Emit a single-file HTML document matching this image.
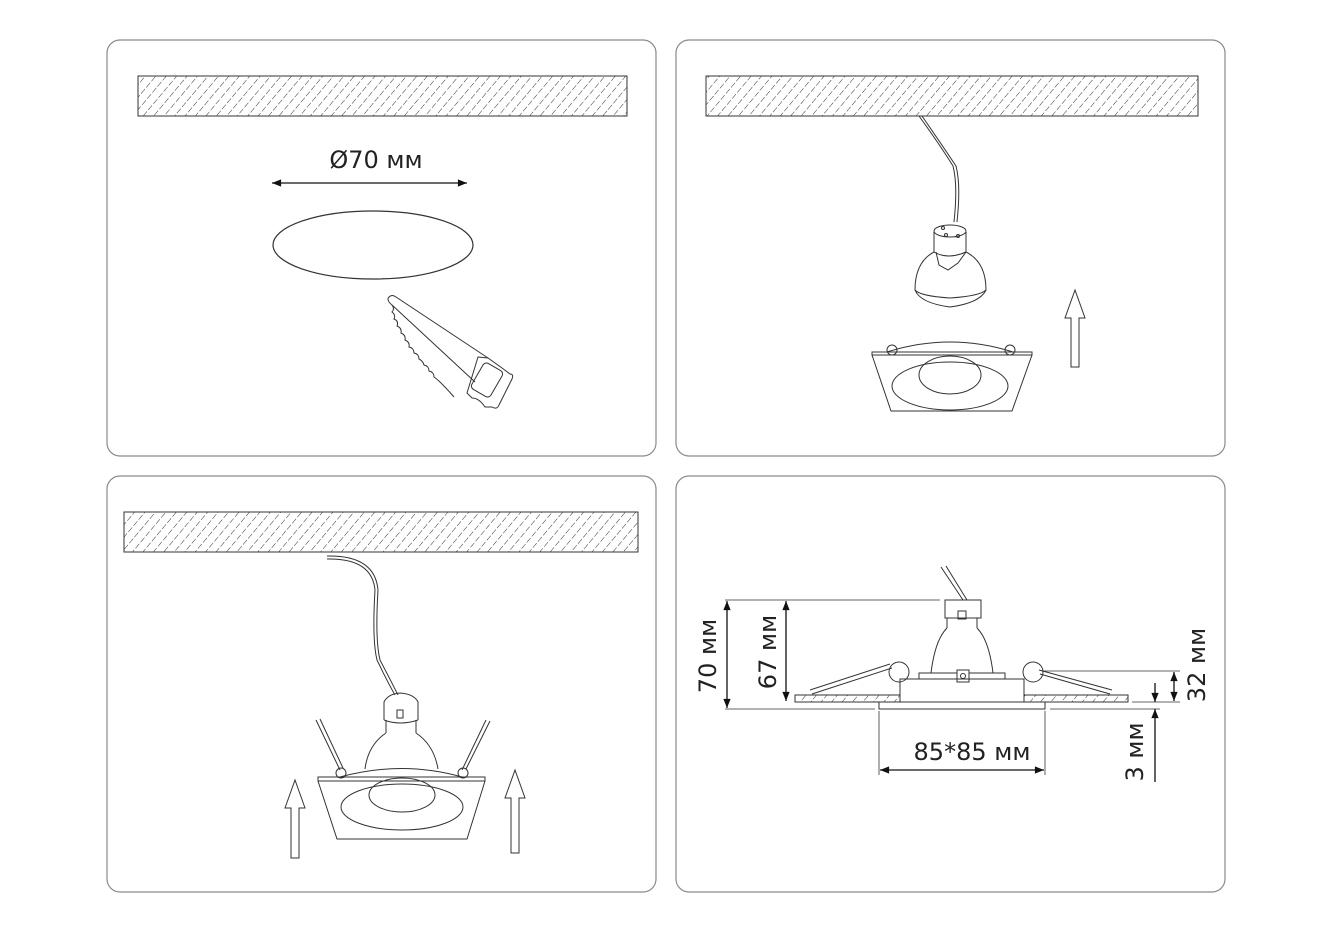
<!DOCTYPE html>
<html><head><meta charset="utf-8"><style>
html,body{margin:0;padding:0;background:#fff}
svg{display:block}
text{font-family:"DejaVu Sans","Liberation Sans",sans-serif;fill:#222}
</style></head><body>
<svg width="1333" height="933" viewBox="0 0 1333 933" xmlns="http://www.w3.org/2000/svg">
<defs>
<pattern id="h" width="8" height="8" patternUnits="userSpaceOnUse" patternTransform="rotate(40)">
<line x1="0" y1="0" x2="0" y2="8" stroke="#333" stroke-width="1" stroke-dasharray="5 2"/>
</pattern>
<marker id="a" viewBox="0 0 10 10" refX="10" refY="5" markerWidth="9" markerHeight="7" orient="auto-start-reverse"><path d="M0,1 L10,5 L0,9 Z" fill="#111"/></marker>
</defs>
<g fill="none" stroke="#8a8a8a" stroke-width="1.2">
<rect x="107" y="40" width="549" height="416" rx="13"/>
<rect x="676" y="40" width="549" height="416" rx="13"/>
<rect x="107" y="476" width="549" height="416" rx="13"/>
<rect x="676" y="476" width="549" height="416" rx="13"/>
</g>
<g stroke="#333" stroke-width="1">
<rect x="138" y="76" width="489" height="40" fill="url(#h)"/>
<rect x="706" y="76" width="492" height="40" fill="url(#h)"/>
<rect x="124" y="512" width="514" height="40" fill="url(#h)"/>
</g>
<!-- Panel 1 -->
<text x="376" y="168" font-size="24" text-anchor="middle">Ø70 мм</text>
<line x1="272" y1="183" x2="467" y2="183" stroke="#111" stroke-width="1.3" marker-start="url(#a)" marker-end="url(#a)"/>
<ellipse cx="373" cy="245" rx="100" ry="34" fill="none" stroke="#333" stroke-width="1.2"/>
<g fill="none" stroke="#333" stroke-width="1">
<path d="M389,297 Q386,300 392,305 L475,382 M389,297 Q392,294 396,297 L488,358"/>
<path d="M392,305 q3,4 0,7 q4,3 2,7 q5,2 3,7 q5,2 4,7 q5,2 4,7 q5,2 4,7 q5,1 5,6 q5,1 5,6 q4,2 5,6 q5,1 5,6 q5,1 5,6 q6,4 20,20" />
<path d="M478,357 L488,358 L502,368 L510,374 Q514,374 512,379 L499,405 Q497,410 492,407 L485,407 Q479,398 472,398 L467,393 Z"/>
<rect x="476" y="365" width="22" height="30" rx="4" transform="rotate(30 487 380)"/>
</g>
<!-- Panel 2 -->
<g fill="none" stroke="#333" stroke-width="1">
<path d="M919,116 Q940,145 953,166 Q958,185 954,222 M922,116 Q942,145 956,166 Q961,185 957,222"/>
<path d="M934,232 L934,252 Q948,260 966,252 L966,232"/>
<ellipse cx="950" cy="231" rx="16" ry="6"/>
<circle cx="946" cy="235" r="1.5"/><circle cx="958" cy="236" r="1.5"/><circle cx="943" cy="228" r="1.5"/>
<path d="M936,252 L939,265 L948,270 L958,263 L966,252"/>
<path d="M934,252 Q915,262 915,290 Q920,303 950,307 Q980,303 986,290 Q986,262 966,252"/>
<path d="M915,290 Q920,296 950,298 Q980,296 986,290"/>
<path d="M872,352 L1032,352 L1032,355 L872,355 Z M872,355 L891,411 L1012,411 L1032,355"/>
<path d="M887,352 Q950,332 1013,352"/>
<circle cx="892" cy="350" r="5"/><circle cx="1010" cy="350" r="5"/>
<ellipse cx="950" cy="386" rx="58" ry="24"/>
<ellipse cx="950" cy="375" rx="31" ry="19"/>
<path d="M1071,367 L1071,318 L1065,318 L1075,290 L1085,318 L1079,318 L1079,367 Z"/>
</g>
<!-- Panel 3 -->
<g fill="none" stroke="#333" stroke-width="1">
<path d="M327,556 Q375,555 378,590 Q375,640 380,660 Q392,683 398,695 M327,559 Q372,558 375,590 Q372,640 377,660 Q388,683 395,695"/>
<path d="M384,720 L384,702 Q388,694 400,693 Q414,694 418,702 L418,720"/>
<rect x="397" y="710" width="6" height="8"/>
<path d="M386,720 L386,733 M416,720 L416,733 M384,720 Q400,726 418,720"/>
<path d="M386,733 Q368,745 365,769 M416,733 Q434,745 438,769"/>
<path d="M318,777 L485,777 L485,781 L318,781 Z M318,781 L337,839 L467,839 L485,781"/>
<path d="M340,777 Q402,760 462,777"/>
<circle cx="341" cy="773" r="5"/><circle cx="463" cy="773" r="5"/>
<path d="M316,720 L340,770 M320,719 L343,768 M486,720 L462,770 M490,721 L466,769"/>
<ellipse cx="402" cy="807" rx="61" ry="23"/>
<ellipse cx="402" cy="795" rx="33" ry="17"/>
<path d="M291,858 L291,808 L285,808 L295,780 L305,808 L299,808 L299,858 Z"/>
<path d="M511,853 L511,798 L505,798 L515,770 L525,798 L519,798 L519,853 Z"/>
</g>
<!-- Panel 4 -->
<g fill="none" stroke="#333" stroke-width="1">
<line x1="725" y1="600" x2="940" y2="600" stroke-width="0.8"/>
<path d="M941,567 L963,600 M946,566 L967,600"/>
<rect x="945" y="600" width="36" height="18"/>
<rect x="958" y="611" width="8" height="8"/>
<path d="M947,618 L947,628 M977,618 L977,628 M947,628 Q935,640 931,673 M977,628 Q989,640 993,673"/>
<rect x="919" y="673" width="86" height="6"/>
<rect x="957" y="670" width="12" height="12" fill="#fff"/><circle cx="963" cy="676" r="2.5"/>
<rect x="900" y="679" width="124" height="23"/>
<rect x="795" y="695" width="105" height="7" fill="url(#h)"/>
<rect x="1024" y="695" width="104" height="7" fill="url(#h)"/>
<rect x="879" y="702" width="166" height="7"/>
<circle cx="899" cy="672" r="10"/><circle cx="1033" cy="672" r="10"/>
<path d="M810,690 L890,664 M812,694 L892,668 M1039,670 L1112,690 M1040,674 L1110,694"/>
<line x1="725" y1="709" x2="875" y2="709" stroke-width="0.8"/>
<line x1="1050" y1="709" x2="1160" y2="709" stroke-width="0.8"/>
<line x1="1042" y1="671" x2="1180" y2="671" stroke-width="0.8"/>
<line x1="1132" y1="702" x2="1180" y2="702" stroke-width="0.8"/>
<line x1="879" y1="711" x2="879" y2="775" stroke-width="0.8"/>
<line x1="1045" y1="711" x2="1045" y2="775" stroke-width="0.8"/>
</g>
<g stroke="#111" stroke-width="1.3">
<line x1="727" y1="601" x2="727" y2="708" marker-start="url(#a)" marker-end="url(#a)"/>
<line x1="786" y1="601" x2="786" y2="701" marker-start="url(#a)" marker-end="url(#a)"/>
<line x1="1174" y1="672" x2="1174" y2="701" marker-start="url(#a)" marker-end="url(#a)"/>
<line x1="1155" y1="683" x2="1155" y2="702" marker-end="url(#a)"/>
<line x1="1155" y1="782" x2="1155" y2="709" marker-end="url(#a)"/>
<line x1="880" y1="770" x2="1044" y2="770" marker-start="url(#a)" marker-end="url(#a)"/>
</g>
<text x="972" y="760" font-size="24" text-anchor="middle">85*85 мм</text>
<text transform="translate(716,656) rotate(-90)" font-size="24" text-anchor="middle">70 мм</text>
<text transform="translate(776,652) rotate(-90)" font-size="24" text-anchor="middle">67 мм</text>
<text transform="translate(1205,665) rotate(-90)" font-size="24" text-anchor="middle">32 мм</text>
<text transform="translate(1143,752) rotate(-90)" font-size="24" text-anchor="middle">3 мм</text>
</svg>
</body></html>
